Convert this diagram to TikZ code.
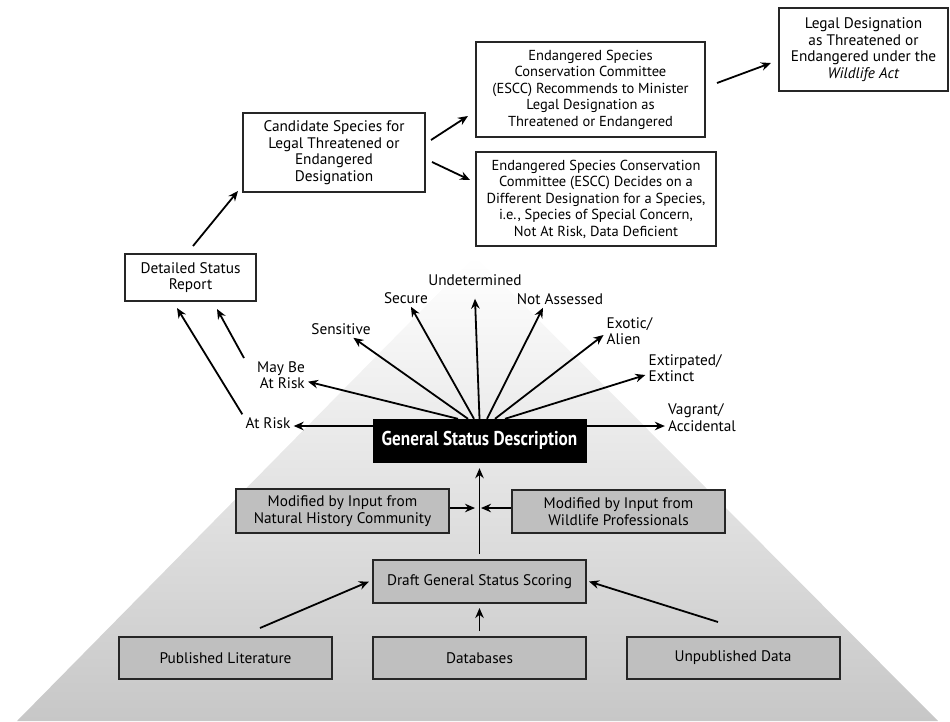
\documentclass[tikz,border=0pt]{standalone}
\usepackage{fontspec}
\setmainfont{PT Sans}
\usepackage{tikz}
\usetikzlibrary{arrows.meta}

\tikzset{
    box/.style={draw=black!85, line width=2pt, fill=white, align=center,
        inner sep=1pt, font=\fontsize{15.3}{16.5}\selectfont},
    graybox/.style={box, fill=black!25},
    lbl/.style={align=center, inner sep=3pt, font=\fontsize{15.3}{16.5}\selectfont},
    arr/.style={-{Stealth[length=10pt,width=8.5pt]}, line width=1.8pt},
}

\begin{document}
\begin{tikzpicture}[x=1pt, y=-1pt]

    % Canvas
    \useasboundingbox (0,0) rectangle (950,721);

    % Pyramid behind the scoring steps
    \shade[top color=white, bottom color=black!22] (475,256) -- (938,721) -- (17,721) -- cycle;

    % Box sizes
    \def\bw{213}

    % Sources
    \node[graybox, minimum width=\bw, minimum height=42] (pub) at (225.5,658) {Published Literature};
    \node[graybox, minimum width=\bw, minimum height=42] (db) at (479.5,658) {Databases};
    \node[graybox, minimum width=\bw, minimum height=42] (unpub) at (733,658) {Unpublished Data};

    % Scoring and inputs
    \node[graybox, minimum width=\bw, minimum height=43] (draft) at (479.5,581.5) {Draft General Status Scoring};
    \node[graybox, minimum width=\bw, minimum height=44] (nhc) at (342.5,511) {Modified by Input from\\Natural History Community};
    \node[graybox, minimum width=\bw, minimum height=43] (wpro) at (618.5,511.5) {Modified by Input from\\Wildlife Professionals};

    % General status
    \node[draw=black, fill=black, text=white, minimum width=\bw, minimum height=43,
        font=\fontsize{20}{22}\selectfont\bfseries] (gsd) at (479.5,440.5)
        {\scalebox{0.86}[1]{General Status Description}};

    % Status ranks
    \node[lbl] (atrisk) at (268,423) {At Risk};
    \node[lbl, align=right] (maybe) at (281,375) {May Be\\At Risk};
    \node[lbl] (sens) at (341,329) {Sensitive};
    \node[lbl] (secure) at (406,298) {Secure};
    \node[lbl] (undet) at (475,280) {Undetermined};
    \node[lbl] (nassess) at (560,299) {Not Assessed};
    \node[lbl, align=left] (exotic) at (629.5,331) {Exotic/\\Alien};
    \node[lbl, align=left] (extirp) at (685,368) {Extirpated/\\Extinct};
    \node[lbl, align=left] (vag) at (702,417.5) {Vagrant/\\Accidental};

    % Legal track
    \node[box, minimum width=131, minimum height=47] (dsr) at (190.5,277.5) {Detailed Status\\Report};
    \node[box, minimum width=182, minimum height=79] (cand) at (334,152.5)
        {Candidate Species for\\Legal Threatened or\\Endangered\\Designation};
    \node[box, minimum width=229, minimum height=95, font=\fontsize{14.5}{16.5}\selectfont] (rec) at (590.5,89.5)
        {Endangered Species\\Conservation Committee\\(ESCC) Recommends to Minister\\Legal Designation as\\Threatened or Endangered};
    \node[box, minimum width=240, minimum height=94, font=\fontsize{14.5}{16.5}\selectfont] (dec) at (596,199)
        {Endangered Species Conservation\\Committee (ESCC) Decides on a\\Different Designation for a Species,\\i.e., Species of Special Concern,\\Not At Risk, Data Deficient};
    \node[box, minimum width=169, minimum height=83] (legal) at (863.5,49.5)
        {Legal Designation\\as Threatened or\\Endangered under the\\\textit{Wildlife Act}};

    % Sources into scoring
    \draw[arr] ([xshift=34.5pt,yshift=8pt]pub.north) -- ([xshift=-3pt]draft.west);
    \draw[arr] ([yshift=5pt]db.north) -- ([yshift=-4pt]draft.south);
    \draw[arr] ([xshift=-15pt,yshift=14pt]unpub.north) -- ([xshift=2pt]draft.east);

    % Scoring up to description, inputs join the line
    \coordinate (merge) at (478,508);
    \draw[arr] ([yshift=5pt]draft.north) -- ([yshift=-6pt]gsd.south);
    \draw[arr] (nhc.east |- merge) -- ([xshift=-3pt]merge);
    \draw[arr] (wpro.west |- merge) -- ([xshift=3pt]merge);

    % Fan of ranks
    \draw[arr] ([yshift=14.5pt]gsd.west) -- ([yshift=-3pt]atrisk.east);
    \draw[arr] ([yshift=14.5pt]gsd.east) -- ([yshift=-8.5pt]vag.west);
    \draw[arr] ([xshift=-21.5pt]gsd.north) -- (maybe);
    \draw[arr] ([xshift=-11.5pt]gsd.north) -- (sens);
    \draw[arr] ([xshift=-5.5pt]gsd.north) -- (secure);
    \draw[arr] (gsd.north) -- ([yshift=-10pt]undet.south);
    \draw[arr] ([xshift=7.5pt]gsd.north) -- ([xshift=-17pt]nassess.south);
    \draw[arr] ([xshift=15.5pt]gsd.north) -- ([yshift=-4pt]exotic.west);
    \draw[arr] ([xshift=25.5pt]gsd.north) -- ([yshift=-7pt]extirp.west);

    % Towards legal designation
    \draw[arr] (atrisk.north west) -- ([xshift=-13.5pt,yshift=-6pt]dsr.south);
    \draw[arr] ([xshift=-10pt]maybe.north west) -- ([xshift=26.5pt,yshift=-7pt]dsr.south);
    \draw[arr] ([xshift=2.5pt,yshift=7pt]dsr.north) -- ([xshift=-4pt,yshift=2pt]cand.south west);
    \draw[arr] ([xshift=5pt,yshift=12.5pt]cand.east) -- ([xshift=-7pt,yshift=-26.5pt]rec.west);
    \draw[arr] ([xshift=6pt,yshift=-9.5pt]cand.east) -- ([xshift=-5pt,yshift=19pt]dec.west);
    \draw[arr] ([xshift=11pt,yshift=6.5pt]rec.east) -- ([xshift=-7pt,yshift=-13.5pt]legal.west);

\end{tikzpicture}
\end{document}
